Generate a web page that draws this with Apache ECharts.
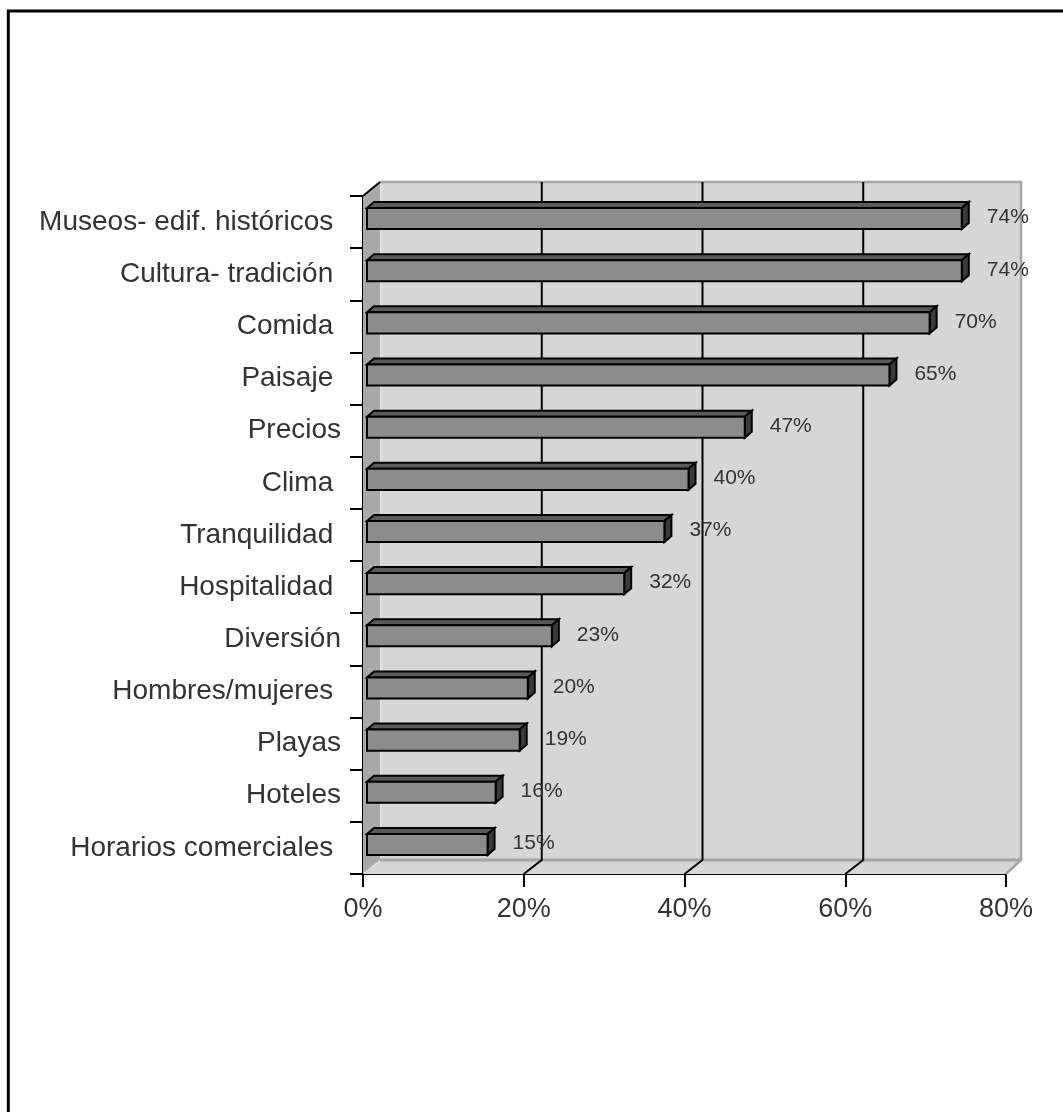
<!DOCTYPE html>
<html>
<head>
<meta charset="utf-8">
<script src="https://cdn.jsdelivr.net/npm/echarts@6/dist/echarts.min.js"></script>
<style>
html,body{margin:0;padding:0;background:#fff;}
#chart{width:1063px;height:1112px;}
</style>
</head>
<body>
<div id="chart"></div>
<script>
const categories = [
  'Museos- edif. históricos ',
  'Cultura- tradición ',
  'Comida ',
  'Paisaje ',
  'Precios',
  'Clima ',
  'Tranquilidad ',
  'Hospitalidad ',
  'Diversión',
  'Hombres/mujeres ',
  'Playas',
  'Hoteles',
  'Horarios comerciales '
];
const values = [74, 74, 70, 65, 47, 40, 37, 32, 23, 20, 19, 16, 15];
const xMin = 0, xMax = 80, xStep = 20;
const gridValues = [20, 40, 60];

// style constants for pseudo-3D look
const DX = 17, DY = -14;        // wall depth offset
const BX = 4, BY = -3.5;        // bar inset from front plane
const BDX = 7, BDY = -6;        // bar depth
const FONT = 'Arial, "Liberation Sans", sans-serif';

const chart = echarts.init(document.getElementById('chart'), null, {renderer: 'canvas'});

function renderWalls(params, api) {
  const cs = params.coordSys;
  const x0 = cs.x, y0 = cs.y, x1 = cs.x + cs.width, y1 = cs.y + cs.height;
  const xr = x1 + DX - 2;
  const children = [];
  // back wall
  children.push({type: 'rect', shape: {x: x0 + DX, y: y0 + DY, width: xr - (x0 + DX), height: cs.height},
    style: {fill: '#d6d6d6', stroke: null}});
  // floor
  children.push({type: 'polygon', shape: {points: [[x0, y1], [x0 + DX, y1 + DY], [xr, y1 + DY], [x1, y1]]},
    style: {fill: '#d6d6d6', stroke: null}});
  // side wall
  children.push({type: 'polygon', shape: {points: [[x0, y0], [x0 + DX, y0 + DY], [x0 + DX, y1 + DY], [x0, y1]]},
    style: {fill: '#a9a9a9', stroke: null}});
  // light inner edges
  children.push({type: 'line', shape: {x1: x0 + DX + 1, y1: y0 + DY, x2: x0 + DX + 1, y2: y1 + DY},
    style: {stroke: '#ececec', lineWidth: 1}});
  children.push({type: 'line', shape: {x1: x0 + 1, y1: y1 - 1, x2: x0 + DX + 1, y2: y1 + DY},
    style: {stroke: '#ececec', lineWidth: 1}});
  // wall edges
  children.push({type: 'polyline', shape: {points: [[x0 + DX, y0 + DY], [xr, y0 + DY], [xr, y1 + DY], [x1, y1]]},
    style: {stroke: '#a6a6a6', lineWidth: 2.5, fill: null}});
  children.push({type: 'line', shape: {x1: x0 + DX, y1: y1 + DY, x2: xr, y2: y1 + DY},
    style: {stroke: '#a6a6a6', lineWidth: 3}});
  // back gridlines with floor slants
  gridValues.forEach(function (v) {
    const gx = api.coord([v, 0])[0];
    children.push({type: 'polyline', shape: {points: [[gx + DX + 1, y0 + DY], [gx + DX + 1, y1 + DY], [gx, y1]]},
      style: {stroke: '#000', lineWidth: 2, fill: null}});
  });
  // top slant of left axis
  children.push({type: 'line', shape: {x1: x0, y1: y0, x2: x0 + DX, y2: y0 + DY},
    style: {stroke: '#000', lineWidth: 2}});
  return {type: 'group', children: children};
}

function renderBar(params, api) {
  const v = api.value(0), ci = api.value(1);
  const p0 = api.coord([0, ci]);
  const p1 = api.coord([v, ci]);
  const band = api.size([0, 1])[1];
  const h = band * 0.404;
  const xa = p0[0] + BX, xb = p1[0] + BX;
  const yc = p0[1] + BY;
  const yt = yc - h / 2, yb = yc + h / 2;
  const st = {stroke: '#000', lineWidth: 2, lineJoin: 'miter'};
  return {type: 'group', children: [
    {type: 'polygon', shape: {points: [[xa, yt], [xa + BDX, yt + BDY], [xb + BDX, yt + BDY], [xb, yt]]},
      style: Object.assign({fill: '#5a5a5a'}, st)},
    {type: 'polygon', shape: {points: [[xb, yt], [xb + BDX, yt + BDY], [xb + BDX, yb + BDY], [xb, yb]]},
      style: Object.assign({fill: '#3a3a3a'}, st)},
    {type: 'rect', shape: {x: xa, y: yt, width: xb - xa, height: h},
      style: Object.assign({fill: '#8c8c8c'}, st)},
    {type: 'text', x: xb + BDX + 18, y: yc - 1,
      style: {text: v + '%', fill: '#333', font: '21px ' + FONT, verticalAlign: 'middle', align: 'left'}}
  ]};
}

const option = {
  backgroundColor: '#fff',
  animation: false,
  graphic: [{
    type: 'rect', z: 100,
    shape: {x: 8.3, y: 11, width: 1100, height: 1160},
    style: {fill: null, stroke: '#000', lineWidth: 3}
  }],
  grid: {left: 363, top: 196, width: 643, height: 678, containLabel: false},
  xAxis: {
    type: 'value', min: xMin, max: xMax, interval: xStep,
    axisLine: {show: true, lineStyle: {color: '#000', width: 2}},
    axisTick: {show: true, length: 13, lineStyle: {color: '#000', width: 2}},
    splitLine: {show: false},
    axisLabel: {formatter: '{value}%', color: '#333', fontSize: 27, fontFamily: FONT, margin: 22}
  },
  yAxis: {
    type: 'category', data: categories, inverse: true,
    axisLine: {show: true, lineStyle: {color: '#000', width: 2}},
    axisTick: {show: true, length: 13, lineStyle: {color: '#000', width: 2}},
    splitLine: {show: false},
    axisLabel: {color: '#333', fontSize: 28, fontFamily: FONT, margin: 22, verticalAlign: 'middle', padding: [0, 0, 6, 0]}
  },
  series: [
    {type: 'custom', renderItem: renderWalls, data: [[0, 0]], z: 1, silent: true, clip: false},
    {type: 'custom', renderItem: renderBar, data: values.map(function (v, i) { return [v, i]; }), z: 5, clip: false,
      encode: {x: 0, y: 1}}
  ]
};
chart.setOption(option);
</script>
</body>
</html>
